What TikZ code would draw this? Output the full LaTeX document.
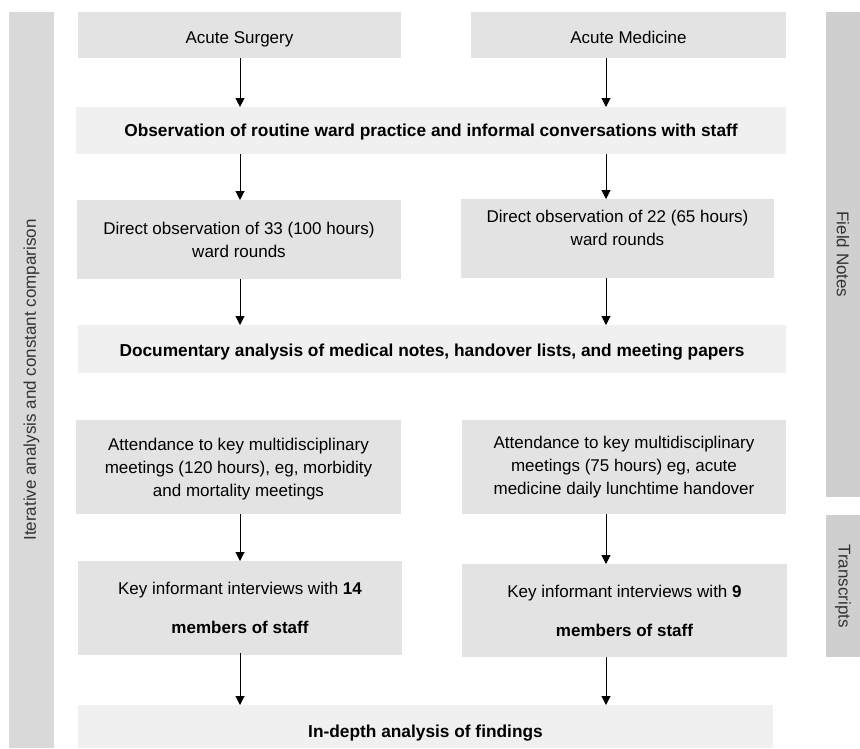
\documentclass[tikz,border=0pt]{standalone}
\usepackage{fontspec}
\setmainfont{Liberation Sans}
\usetikzlibrary{arrows.meta}
\definecolor{boxgray}{HTML}{E3E3E3}
\definecolor{stepgray}{HTML}{F0F0F0}
\definecolor{sidegray}{HTML}{D9D9D9}
\definecolor{railgray}{HTML}{CFCFCF}
\definecolor{sidetext}{HTML}{333333}
\begin{document}
\begin{tikzpicture}[
                x = 1pt, y = -1pt,
                font = \fontsize{17}{23}\selectfont,
                box/.style = {fill = boxgray, inner sep = 0mm, outer sep = 0mm, align = center},
                stage/.style = {fill = stepgray, inner sep = 0mm, outer sep = 0mm, align = center, font = \fontsize{17.3}{23}\selectfont\bfseries},
                side/.style = {fill = sidegray, inner sep = 0mm, outer sep = 0mm, text = sidetext},
                rail/.style = {fill = railgray, inner sep = 0mm, outer sep = 0mm, text = sidetext},
                arr/.style = {draw, line width = 1pt, -{Triangle[width = 9pt, length = 9pt]}},
            ]
            \useasboundingbox (0, 0) rectangle (860, 748);

            \node (iter) at (31.5, 380) [side, rotate = 90, minimum width = 736, minimum height = 45] {Iterative analysis and constant comparison};
            \node (notes) at (843, 254.5) [rail, rotate = -90, minimum width = 485, minimum height = 34] {Field Notes};
            \node (trans) at (843, 586) [rail, rotate = -90, minimum width = 142, minimum height = 34] {Transcripts};

            \node (surg) at (239.5, 35) [box, minimum width = 323, minimum height = 46, text height = 20pt, text depth = 4pt] {Acute Surgery};
            \node (med) at (628.5, 35) [box, minimum width = 315, minimum height = 46, text height = 20pt, text depth = 4pt] {Acute Medicine};

            \node (obs) at (431, 130.5) [stage, minimum width = 710, minimum height = 47, text height = 16pt, text depth = 4pt] {Observation of routine ward practice and informal conversations with staff};

            \node (dirL) at (239, 239.5) [box, minimum width = 324, minimum height = 79] {Direct observation of 33 (100 hours)\\ward rounds};
            \node (dirR) at (617.5, 238.5) [box, minimum width = 313, minimum height = 79, text depth = 22pt] {Direct observation of 22 (65 hours)\\ward rounds};

            \node (doc) at (432, 349) [stage, minimum width = 708, minimum height = 48, text height = 18pt, text depth = 4pt] {Documentary analysis of medical notes, handover lists, and meeting papers};

            \node (attL) at (238.5, 467) [box, minimum width = 325, minimum height = 94, text depth = 0pt] {Attendance to key multidisciplinary\\meetings (120 hours), eg, morbidity\\and mortality meetings};
            \node (attR) at (624, 467) [box, minimum width = 324, minimum height = 94] {Attendance to key multidisciplinary\\meetings (75 hours) eg, acute\\medicine daily lunchtime handover};

            \node (keyL) at (240, 608) [box, minimum width = 324, minimum height = 94] {Key informant interviews with \textbf{14}\\[16pt]\textbf{members of staff}};
            \node (keyR) at (624.5, 610.5) [box, minimum width = 325, minimum height = 93] {Key informant interviews with \textbf{9}\\[16pt]\textbf{members of staff}};

            \node (depth) at (425.5, 726.5) [stage, minimum width = 695, minimum height = 43, text height = 25pt, text depth = 4pt] {In-depth analysis of findings};

            \coordinate (lcol) at (240, 0);
            \coordinate (rcol) at (606, 0);

            \path[arr] (surg.south -| lcol) -- (obs.north -| lcol);
            \path[arr] (med.south -| rcol) -- (obs.north -| rcol);
            \path[arr] (obs.south -| lcol) -- (dirL.north -| lcol);
            \path[arr] (obs.south -| rcol) -- (dirR.north -| rcol);
            \path[arr] (dirL.south -| lcol) -- (doc.north -| lcol);
            \path[arr] (dirR.south -| rcol) -- (doc.north -| rcol);

            \path[arr] (attL.south -| lcol) -- (keyL.north -| lcol);
            \path[arr] (attR.south -| rcol) -- (keyR.north -| rcol);
            \path[arr] ([yshift = 2pt]keyL.south -| lcol) -- (depth.north -| lcol);
            \path[arr] (keyR.south -| rcol) -- (depth.north -| rcol);
        \end{tikzpicture}
\end{document}
